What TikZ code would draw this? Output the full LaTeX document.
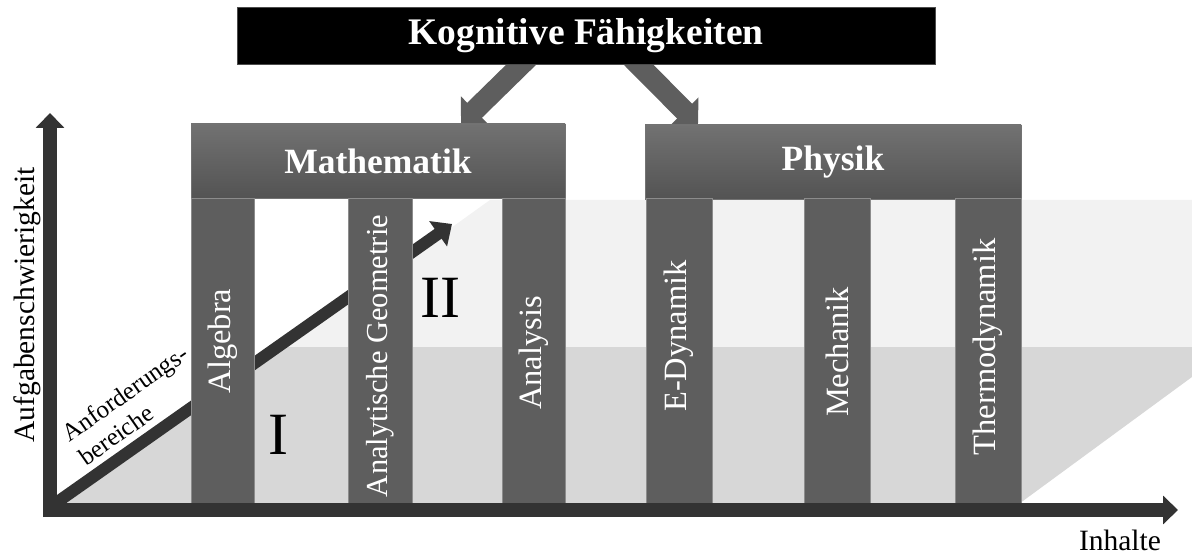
\documentclass[tikz,border=0pt]{standalone}
\usepackage{fontspec}
\setmainfont{Liberation Serif}
\usetikzlibrary{arrows.meta,calc}
\definecolor{pillarc}{HTML}{5E5E5E}
\definecolor{hdrc}{HTML}{626262}
\definecolor{axisc}{HTML}{333333}
\definecolor{bandI}{HTML}{D7D7D7}
\definecolor{bandII}{HTML}{F2F2F2}
\pgfdeclarelayer{bg}
\pgfsetlayers{bg,main}
\begin{document}
\begin{tikzpicture}[x=1pt,y=-1pt,
  pillar/.style={fill=pillarc, draw=black!45, line width=0.8pt, minimum height=305pt, inner sep=0pt},
  plabel/.style={rotate=90, text=white, font=\fontsize{32.5pt}{32.5pt}\selectfont, inner sep=0pt},
  hdr/.style={top color=hdrc!90!white, bottom color=hdrc!85!black, draw=black!55, line width=0.8pt, minimum height=74pt, inner sep=0pt, text=white, font=\bfseries\fontsize{35.5pt}{35.5pt}\selectfont},
  topbox/.style={fill=black, draw=black!70, line width=0.8pt, minimum width=698pt, minimum height=57pt, inner sep=0pt, text=white, font=\bfseries\fontsize{37.5pt}{37.5pt}\selectfont},
  toparrow/.style={draw=pillarc, line width=21pt, -{Triangle[width=38pt,length=19pt]}},
  axisarrow/.style={draw=axisc, line width=14pt, -{Triangle[width=28pt,length=15pt]}},
  diagarrow/.style={draw=axisc, line width=12pt, -{Triangle[width=30pt,length=17pt]}},
  roman/.style={font=\fontsize{60pt}{60pt}\selectfont, inner sep=0pt},
  axlabel/.style={font=\fontsize{29.5pt}{29.5pt}\selectfont, inner sep=0pt}]
\useasboundingbox (0,0) rectangle (1192,556);

% header boxes
\node[topbox] (kog) at (586,35.5) {Kognitive Fähigkeiten};
\node[hdr, minimum width=374pt] (math) at (378,161) {Mathematik};
\node[hdr, minimum width=376pt] (phys) at (833,162) {Physik};

% pillars
\node[pillar, minimum width=63pt] (alg) at (223,350.5) {};
\node[pillar, minimum width=64pt] (ag) at (380,350.5) {};
\node[pillar, minimum width=63pt] (ana) at (533.5,350.5) {};
\node[pillar, minimum width=66pt] (ed) at (679,350.5) {};
\node[pillar, minimum width=66pt] (mech) at (837,350.5) {};
\node[pillar, minimum width=66pt] (thermo) at (988,350.5) {};

\node[plabel] at ($(alg.center)+(0,-9.5)$) {Algebra};
\node[plabel, font=\fontsize{30.5pt}{30.5pt}\selectfont] at ($(ag.center)+(0,5.5)$) {Analytische Geometrie};
\node[plabel] at ($(ana.center)+(0,2.5)$) {Analysis};
\node[plabel] at ($(ed.center)+(0,-14.5)$) {E-Dynamik};
\node[plabel] at ($(mech.center)+(0,1.5)$) {Mechanik};
\node[plabel] at ($(thermo.center)+(0,-3.5)$) {Thermodynamik};

% coordinates for axes
\coordinate (O) at (50,510);
\coordinate (ytip) at (50,113);
\coordinate (xtip) at (1178,510);
\coordinate (dstart) at (56,503);
\coordinate (dtip) at (452,224);

\begin{pgfonlayer}{bg}
  \begin{scope}
    \clip (0,0) rectangle (1192,556);
    \fill[bandII] (285,347) -- (490,200) -- (1192,200) -- (1192,347) -- cycle;
    \fill[bandI] (57,510) -- (285,347) -- (1192,347) -- (1192,377) -- (1012,509) -- (57,509) -- cycle;
  \end{scope}
  \draw[diagarrow] (dstart) -- (dtip);
  \draw[toparrow] (kog.center -| 551,0) -- (math.north -| 461,0);
  \draw[toparrow] (kog.center -| 609.5,0) -- (phys.north -| 698,0);
\end{pgfonlayer}

% axes
\draw[axisarrow] ($(O)+(0,7)$) -- (ytip);
\draw[axisarrow] ($(O)+(-7,0)$) -- (xtip);

% labels
\node[roman] (r1) at (278,435) {I};
\node[roman] (r2) at (440,298) {II};
\node[axlabel, rotate=90] (ylab) at (27,305) {Aufgabenschwierigkeit};
\node[axlabel] (xlab) at (1120,540) {Inhalte};
\node[font=\fontsize{25pt}{29pt}\selectfont, rotate=35, align=left, inner sep=0pt] (dlab) at (133,405) {Anforderungs-\\bereiche};
\end{tikzpicture}
\end{document}
